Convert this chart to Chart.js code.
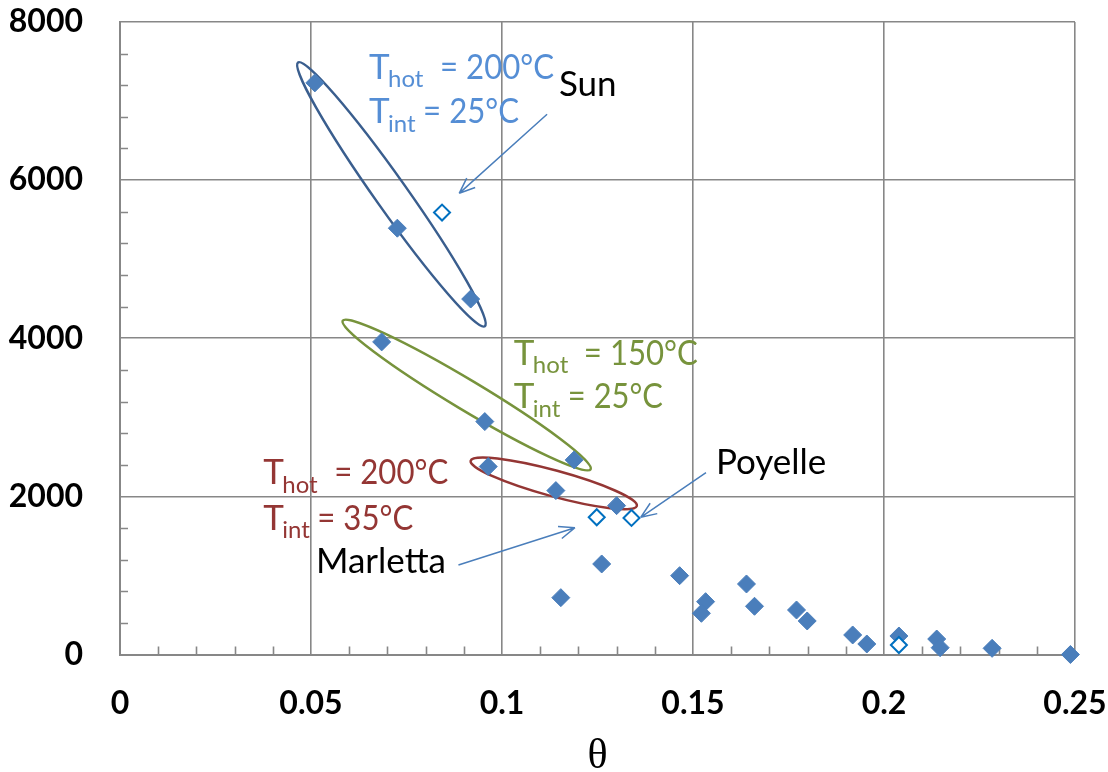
<!DOCTYPE html>
<html>
<head>
<meta charset="utf-8">
<script src="https://cdn.jsdelivr.net/npm/chart.js@4.4.1/dist/chart.umd.min.js"></script>
<style>
  html, body { margin: 0; padding: 0; background: #fff; }
</style>
</head>
<body>
<canvas id="theta-chart" width="1108" height="772"></canvas>
<script>
// measured points (theta, value) - filled diamonds
const filledTheta = [0.0510, 0.0726, 0.0918, 0.0685, 0.0955, 0.1189, 0.0964, 0.1141, 0.1300,
  0.1261, 0.1154, 0.1465, 0.1533, 0.1522, 0.1640, 0.1661, 0.1771, 0.1799, 0.1918, 0.1955,
  0.2039, 0.2138, 0.2147, 0.2283, 0.2488];
const filledValue = [7230, 5392, 4496, 3954, 2946, 2461, 2377, 2073, 1883,
  1145, 719, 997, 668, 521, 892, 610, 563, 424, 247, 133,
  234, 196, 86, 78, 0];

// literature points - open diamonds (Sun, Marletta, Poyelle, other)
const openTheta = [0.0843, 0.1248, 0.1339, 0.2039];
const openValue = [5590, 1736, 1727, 120];

const xTickLabels = ["0", "0.05", "0.1", "0.15", "0.2", "0.25"];
const yTickLabels = ["0", "2000", "4000", "6000", "8000"];

// annotation layout, in data coordinates
const ellipses = [
  { from: [0.0466, 7489], to: [0.0955, 4151], half: 16, color: "#3A5E8E" },
  { from: [0.0583, 4222], to: [0.1232, 2342], half: 15, color: "#77933C" },
  { from: [0.0918, 2451], to: [0.1353, 1878], half: 13, color: "#943634" }
];
const tempLabels = [
  { at: [0.0652, 7280], sub: "hot", rest: "= 200°C", eq: 71, w: 114, color: "#558ED5" },
  { at: [0.0652, 6722], sub: "int", rest: "= 25°C", eq: 54, w: 96, color: "#558ED5" },
  { at: [0.1031, 3662], sub: "hot", rest: "= 150°C", eq: 70, w: 114, color: "#77933C" },
  { at: [0.1031, 3114], sub: "int", rest: "= 25°C", eq: 54, w: 95, color: "#77933C" },
  { at: [0.0375, 2153], sub: "hot", rest: "= 200°C", eq: 71, w: 114, color: "#943634" },
  { at: [0.0375, 1575], sub: "int", rest: "= 35°C", eq: 54, w: 96, color: "#943634" }
];
const names = [
  { at: [0.1149, 7058], text: "Sun" },
  { at: [0.0513, 1035], text: "Marletta" },
  { at: [0.1560, 2283], text: "Poyelle" }
];
const arrows = [
  { from: [0.1118, 6834], to: [0.0888, 5833] },
  { from: [0.0886, 1132], to: [0.1191, 1604] },
  { from: [0.1534, 2299], to: [0.1363, 1735] }
];

const ctx = document.getElementById("theta-chart").getContext("2d");
const gridGray = "#878787";
const textFont = "Lato, 'Open Sans', sans-serif";

function px(chart, p) {
  return [chart.scales.x.getPixelForValue(p[0]), chart.scales.y.getPixelForValue(p[1])];
}

// minor ticks + ellipses under the points
const underlay = {
  id: "underlay",
  beforeDatasetsDraw(chart) {
    const c = chart.ctx;
    const area = chart.chartArea;
    const xs = chart.scales.x, ys = chart.scales.y;
    c.save();
    c.strokeStyle = gridGray;
    c.lineWidth = 1.6;
    c.beginPath();
    for (let i = 1; i < 25; i++) {
      if (i % 5 == 0) continue;
      const x = Math.round(xs.getPixelForValue(i / 100)) + 0.5;
      c.moveTo(x, area.bottom);
      c.lineTo(x, area.bottom - 8);
    }
    for (let i = 1; i < 20; i++) {
      if (i % 5 == 0) continue;
      const y = Math.round(ys.getPixelForValue(i * 400)) + 0.5;
      c.moveTo(area.left, y);
      c.lineTo(area.left + 8, y);
    }
    c.stroke();

    ellipses.forEach(e => {
      const a = px(chart, e.from), b = px(chart, e.to);
      const cx = (a[0] + b[0]) / 2, cy = (a[1] + b[1]) / 2;
      const len = Math.hypot(b[0] - a[0], b[1] - a[1]) / 2;
      const rot = Math.atan2(b[1] - a[1], b[0] - a[0]);
      c.beginPath();
      c.ellipse(cx, cy, len, e.half, rot, 0, Math.PI * 2);
      c.strokeStyle = e.color;
      c.lineWidth = 2.5;
      c.stroke();
    });
    c.restore();
  }
};

// text labels + arrows on top
const overlay = {
  id: "overlay",
  afterDatasetsDraw(chart) {
    const c = chart.ctx;
    c.save();
    c.textBaseline = "alphabetic";
    c.textAlign = "left";
    tempLabels.forEach(l => {
      const p = px(chart, l.at);
      c.fillStyle = l.color;
      c.font = "35px " + textFont;
      c.fillText("T", p[0], p[1]);
      c.fillText(l.rest, p[0] + l.eq, p[1], l.w);
      c.font = "24px " + textFont;
      c.fillText(l.sub, p[0] + 19, p[1] + 8.5);
    });
    c.fillStyle = "#000";
    c.font = "35px " + textFont;
    names.forEach(n => {
      const p = px(chart, n.at);
      c.fillText(n.text, p[0], p[1]);
    });

    c.strokeStyle = "#4A7EBB";
    c.lineWidth = 1.5;
    arrows.forEach(ar => {
      const a = px(chart, ar.from), b = px(chart, ar.to);
      const ang = Math.atan2(b[1] - a[1], b[0] - a[0]);
      c.beginPath();
      c.moveTo(a[0], a[1]);
      c.lineTo(b[0], b[1]);
      for (const s of [-1, 1]) {
        c.moveTo(b[0], b[1]);
        c.lineTo(b[0] - 17 * Math.cos(ang + s * 0.38), b[1] - 17 * Math.sin(ang + s * 0.38));
      }
      c.stroke();
    });
    c.restore();
  }
};

new Chart(ctx, {
  type: "scatter",
  data: {
    datasets: [
      {
        label: "Literature",
        data: openTheta.map((t, i) => ({ x: t, y: openValue[i] })),
        pointStyle: "rectRot",
        pointRadius: 8,
        backgroundColor: "#FFFFFF",
        borderColor: "#0070C0",
        borderWidth: 2,
        clip: false
      },
      {
        label: "This work",
        data: filledTheta.map((t, i) => ({ x: t, y: filledValue[i] })),
        pointStyle: "rectRot",
        pointRadius: 9,
        backgroundColor: "#4A7EBB",
        borderColor: "#4A7EBB",
        borderWidth: 1,
        clip: false
      }
    ]
  },
  options: {
    responsive: false,
    animation: false,
    events: [],
    layout: { padding: { top: 22, right: 33, left: 0, bottom: 0 } },
    plugins: {
      legend: { display: false },
      tooltip: { enabled: false }
    },
    scales: {
      x: {
        type: "linear",
        min: 0,
        max: 0.25,
        afterFit: s => { s.height = 117.5; s.paddingLeft = 0; s.paddingRight = 0; },
        ticks: {
          stepSize: 0.05,
          padding: 30,
          color: "#000",
          font: { family: textFont, size: 32, weight: "bold" },
          callback: (v, i) => xTickLabels[i]
        },
        grid: { color: gridGray, lineWidth: 1.6, drawTicks: false },
        border: { color: gridGray, width: 2 },
        title: {
          display: true,
          text: "θ",
          color: "#000",
          font: { family: "'Liberation Serif', serif", size: 42, lineHeight: 1 },
          padding: { top: 0, bottom: -6 }
        }
      },
      y: {
        min: 0,
        max: 8000,
        afterFit: s => { s.width = 120; s.paddingTop = 0; s.paddingBottom = 0; },
        ticks: {
          stepSize: 2000,
          padding: 37,
          color: "#000",
          font: { family: textFont, size: 32, weight: "bold" },
          callback: (v, i) => yTickLabels[i]
        },
        grid: { color: gridGray, lineWidth: 1.6, drawTicks: false },
        border: { color: gridGray, width: 2 }
      }
    }
  },
  plugins: [underlay, overlay]
});
</script>
</body>
</html>
